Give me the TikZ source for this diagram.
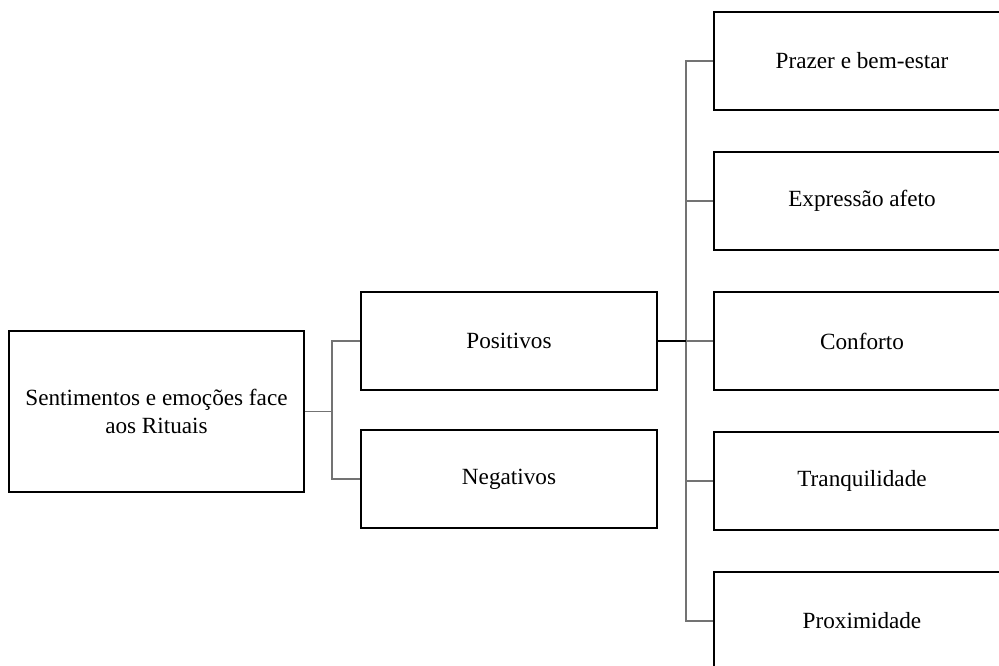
\documentclass[tikz,border=0pt]{standalone}
\usepackage{fontspec}
\setmainfont{Liberation Serif}
\usepackage{tikz}
\usetikzlibrary{positioning}
\tikzstyle{caixa}=[shape=rectangle, draw, line width=1.1pt, minimum width=5.92cm, minimum height=1.97cm, align=center, font=\fontsize{13.2}{15.5}\selectfont, inner sep=0]
\tikzstyle{ligacao}=[draw=black!55, line width=0.6pt]

\begin{document}
\begin{tikzpicture}
\clip (0,0) rectangle (19.98,13.3);
\node[caixa, minimum width=5.9cm, minimum height=3.22cm] (raiz) at (3.13,5.07) {Sentimentos e emoções face\\aos Rituais};
\node[caixa] (pos) at (10.18,6.48) {Positivos};
\node[caixa] (neg) at (10.18,3.72) {Negativos};
\node[caixa] (prazer) at (17.24,12.08) {Prazer e bem-estar};
\node[caixa] (afeto) at (17.24,9.28) {Expressão afeto};
\node[caixa] (conforto) at (17.24,6.48) {Conforto};
\node[caixa] (tranq) at (17.24,3.68) {Tranquilidade};
\node[caixa] (prox) at (17.24,0.88) {Proximidade};
\coordinate (j1) at (6.64,5.07);
\coordinate (j2) at (13.72,6.48);
\draw[ligacao] (raiz.east) -- (j1);
\draw[ligacao] (j1) |- (pos.west);
\draw[ligacao] (j1) |- (neg.west);
\draw[ligacao] (j2) |- (prazer.west);
\draw[ligacao] (j2) |- (afeto.west);
\draw[ligacao] (j2) -- (conforto.west);
\draw[ligacao] (j2) |- (tranq.west);
\draw[ligacao] (j2) |- (prox.west);
\draw[line width=1.1pt] (pos.east) -- (j2);
\end{tikzpicture}
\end{document}
